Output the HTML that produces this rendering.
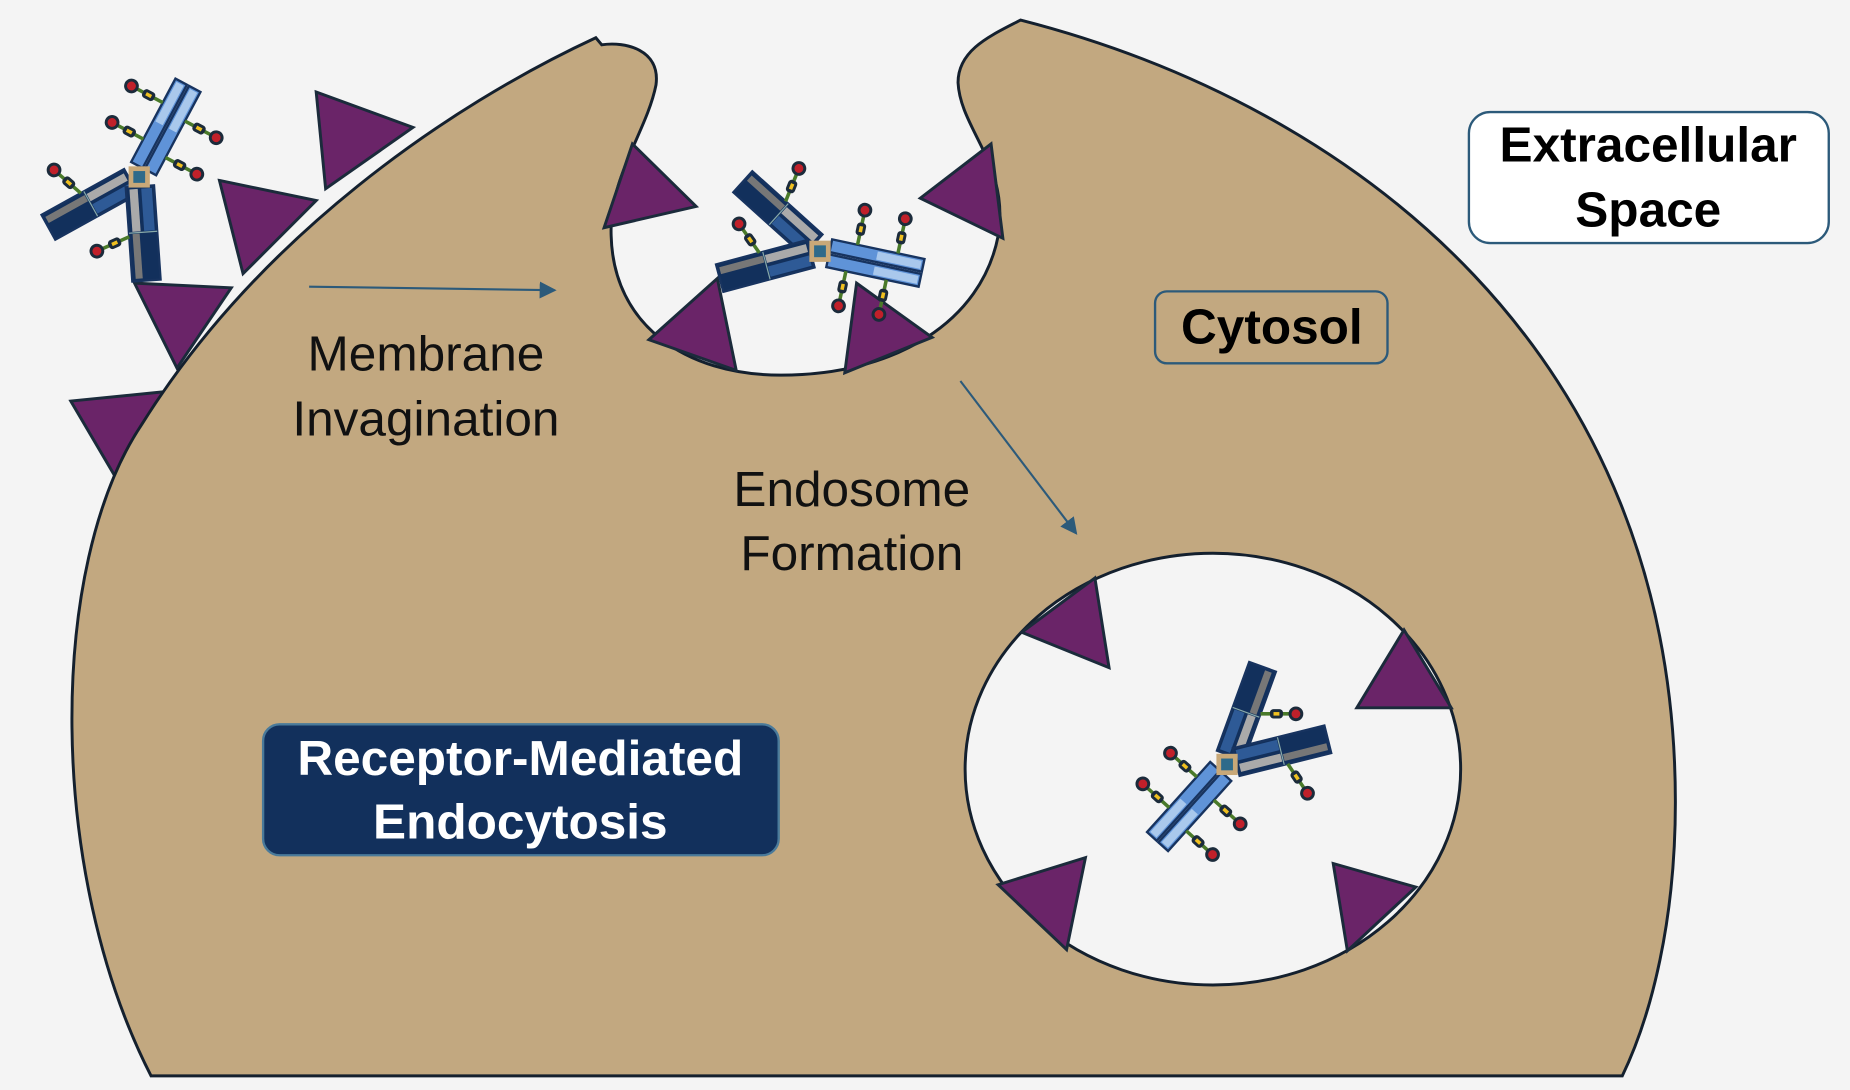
<!DOCTYPE html>
<html><head><meta charset="utf-8"><style>
html,body{margin:0;padding:0;background:#f4f4f4;width:1850px;height:1090px;overflow:hidden}
svg{display:block}
text{font-family:"Liberation Sans",sans-serif}
</style></head><body>
<svg width="1850" height="1090" viewBox="0 0 1568 924" preserveAspectRatio="none" xmlns="http://www.w3.org/2000/svg">
<defs>
<g id="drug">
  <line x1="0" y1="0" x2="26" y2="0" stroke="#4a7a2a" stroke-width="3"/>
  <rect x="8" y="-4" width="11" height="8" rx="3" fill="#1b2b3b"/><rect x="11" y="-1.5" width="5" height="3" fill="#f0c020"/>
  <circle cx="30" cy="0" r="5" fill="#c0202a" stroke="#1b2b3b" stroke-width="2.5"/>
</g>
<g id="light">
  <rect x="-12" y="-88" width="11" height="80" fill="#5f93d8" stroke="#17335f" stroke-width="2"/>
  <rect x="1" y="-88" width="11" height="80" fill="#5f93d8" stroke="#17335f" stroke-width="2"/>
  <rect x="-10" y="-86" width="7" height="38" fill="#a9c8ec"/>
  <rect x="3" y="-86" width="7" height="38" fill="#a9c8ec"/>
  <use href="#drug" transform="translate(-12,-30) rotate(180)"/>
  <use href="#drug" transform="translate(12,-60)"/>
  <use href="#drug" transform="translate(12,-25)"/>
  <use href="#drug" transform="translate(-12,-65) rotate(180)"/>
</g>
<g id="dark">
  <rect x="-12" y="-88" width="24" height="80" fill="#12305c" stroke="#17335f" stroke-width="2"/>
  <rect x="-10" y="-46" width="9" height="36" fill="#2e5a96"/>
  <rect x="2" y="-46" width="7" height="36" fill="#aaaaaa"/>
  <rect x="3" y="-86" width="6" height="38" fill="#777"/>
  <line x1="-12" y1="-47" x2="12" y2="-47" stroke="#8aa" stroke-width="1"/>
  <use href="#drug" transform="translate(12,-50) rotate(-20)"/>
</g>
<g id="hinge"><rect x="-7" y="-7" width="14" height="14" fill="#2e6a8a" stroke="#c8a878" stroke-width="4"/></g>
<marker id="ah" markerWidth="8" markerHeight="8" refX="7" refY="4" orient="auto"><path d="M0,0 L8,4 L0,8 z" fill="#2c5a7a"/></marker>
</defs>
<rect width="1568" height="924" fill="#f4f4f4"/>
<g fill="#6a2468" stroke="#1b2b3b" stroke-width="2.5" stroke-linejoin="miter">
<polygon points="268,78 350,108 276,160"/>
<polygon points="186,153 268,170 206,232"/>
<polygon points="114,240 196,244 150,312"/>
<polygon points="60,340 140,332 100,408"/>
</g>
<path d="M128,912 C40,740 40,480 120,360 C220,200 380,90 505,32 L510,38 C530,35 560,42 556,72 C548,112 516,150 518,200 C520,275 580,318 662,318 C760,318 832,272 846,200 C856,140 814,110 812,70 C812,42 840,30 865,17 C1150,90 1420,300 1420,680 C1420,780 1400,860 1375,912 Z" fill="#c2a880" stroke="#14202e" stroke-width="2.5"/>
<ellipse cx="1028" cy="652" rx="210" ry="183" fill="#f4f4f4" stroke="#14202e" stroke-width="2.5"/>
<g fill="#6a2468" stroke="#1b2b3b" stroke-width="2.5">
<polygon points="536,122 590,175 512,193"/>
<polygon points="840,122 850,202 780,168"/>
<polygon points="608,236 624,314 550,288"/>
<polygon points="726,240 790,286 716,316"/>
<polygon points="928,490 940,566 866,536"/>
<polygon points="1190,534 1230,600 1150,600"/>
<polygon points="920,727 904,805 846,750"/>
<polygon points="1130,732 1200,752 1142,806"/>
</g>
<g transform="translate(118,150)"><use href="#light" transform="rotate(28)"/><use href="#dark" transform="rotate(-119)"/><use href="#dark" transform="rotate(176)"/><use href="#hinge"/></g>
<g transform="translate(695,213)"><use href="#dark" transform="rotate(-48)"/><use href="#dark" transform="rotate(-105)"/><use href="#light" transform="rotate(102)"/><use href="#hinge"/></g>
<g transform="translate(1040,648)"><use href="#dark" transform="rotate(20)"/><use href="#dark" transform="rotate(76)"/><use href="#light" transform="rotate(-138)"/><use href="#hinge"/></g>
<line x1="262" y1="243" x2="470" y2="246" stroke="#2c5a7a" stroke-width="1.8" marker-end="url(#ah)"/>
<line x1="814" y1="323" x2="912" y2="452" stroke="#2c5a7a" stroke-width="1.8" marker-end="url(#ah)"/>
<g font-size="42" fill="#111" text-anchor="middle">
<text x="361" y="314">Membrane</text><text x="361" y="369">Invagination</text>
<text x="722" y="429">Endosome</text><text x="722" y="483">Formation</text>
</g>
<rect x="1245" y="95" width="305" height="111" rx="18" fill="#fff" stroke="#2c5a7a" stroke-width="2"/>
<g font-size="42" font-weight="bold" fill="#000" text-anchor="middle">
<text x="1397" y="137">Extracellular</text><text x="1397" y="192">Space</text>
</g>
<rect x="979" y="247" width="197" height="61" rx="10" fill="#c2a880" stroke="#2c5a7a" stroke-width="2"/>
<text x="1078" y="291" font-size="42" font-weight="bold" text-anchor="middle" fill="#000">Cytosol</text>
<rect x="223" y="614" width="437" height="111" rx="14" fill="#12305c" stroke="#4a7a9a" stroke-width="2"/>
<g font-size="42" font-weight="bold" fill="#fff" text-anchor="middle">
<text x="441" y="657">Receptor-Mediated</text><text x="441" y="711">Endocytosis</text>
</g>
</svg>
</body></html>
